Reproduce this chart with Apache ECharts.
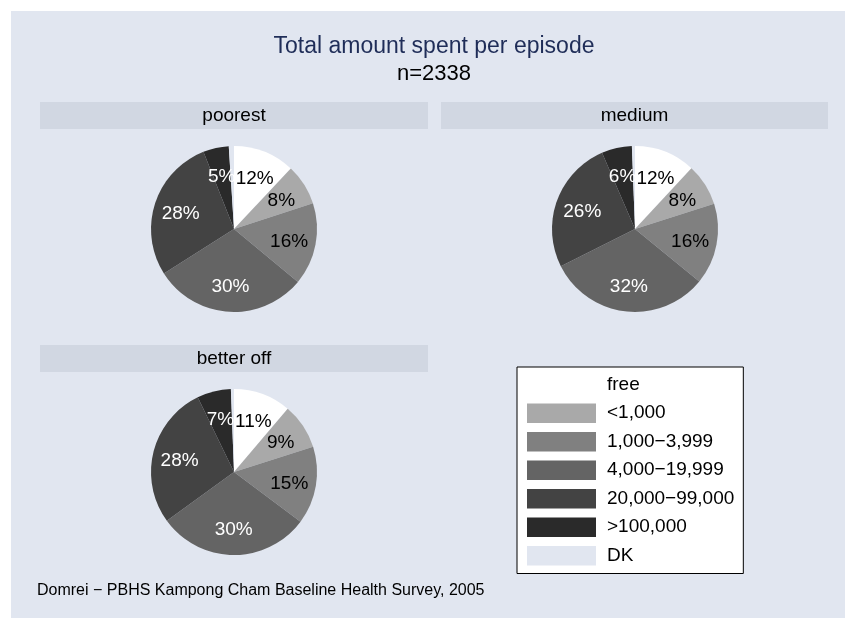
<!DOCTYPE html>
<html>
<head>
<meta charset="utf-8">
<title>Total amount spent per episode</title>
<script src="https://cdn.jsdelivr.net/npm/echarts@6/dist/echarts.min.js"></script>
<style>
  html, body { margin: 0; padding: 0; background: #e1e6f0; overflow: hidden; }
  #chart { width: 845px; height: 618px; }
</style>
</head>
<body>
<div id="chart"></div>
<script>
// Spending categories (slice order, clockwise from 12 o'clock)
const categories = ['free', '<1,000', '1,000\u22123,999', '4,000\u221219,999', '20,000\u221299,000', '>100,000', 'DK'];

// Wealth groups shown as separate panels
const groups = ['poorest', 'medium', 'better off'];

// Share of episodes (%) per spending category, by group
const poorestShares = [12, 8, 16, 30, 28, 5, 1];
const mediumShares = [11.9, 8.2, 15.8, 31.7, 25.9, 5.9, 0.6];
const betterOffShares = [11.2, 8.9, 15.1, 29.8, 27.8, 6.6, 0.6];

const titleText = 'Total amount spent per episode';
const subtitleText = 'n=2338';
const noteText = 'Domrei \u2212 PBHS Kampong Cham Baseline Health Survey, 2005';

// Styling
const FONT = '"Liberation Sans", Arial, Helvetica, sans-serif';
const sliceColors = ['#ffffff', '#a9a9a9', '#808080', '#646464', '#434343', '#2a2a2a', '#e1e6f0'];
const labelColors = ['#000000', '#000000', '#000000', '#ffffff', '#ffffff', '#ffffff', '#ffffff'];
const panelBg = '#e1e6f0';
const stripBg = '#d1d7e2';

// Panel geometry
const PIE_R = 83;
const panels = [
  { center: [234, 229], strip: [40, 102, 388, 27] },
  { center: [635, 229], strip: [441, 102, 387, 27] },
  { center: [234, 472], strip: [40, 345, 388, 27] }
];
const shareSets = [poorestShares, mediumShares, betterOffShares];

const chart = echarts.init(document.getElementById('chart'), null, { renderer: 'canvas' });

function buildData(values) {
  return values.map((v, i) => ({
    name: categories[i],
    value: v,
    itemStyle: { color: sliceColors[i] },
    label: {
      show: categories[i] !== 'DK',
      color: labelColors[i]
    }
  }));
}

const series = shareSets.map((vals, si) => ({
  type: 'pie',
  name: groups[si],
  center: panels[si].center,
  radius: [0, PIE_R],
  startAngle: 90,
  clockwise: true,
  avoidLabelOverlap: false,
  silent: true,
  animation: false,
  itemStyle: { borderWidth: 0 },
  emphasis: { disabled: true },
  label: {
    position: 'inside',
    fontFamily: FONT,
    fontSize: 19,
    formatter: p => Math.round(p.value) + '%'
  },
  labelLine: { show: false },
  // push labels from mid-radius out to about 0.63 of the radius
  labelLayout: function (params) {
    const c = panels[params.seriesIndex].center;
    const r = params.labelRect;
    const lx = r.x + r.width / 2;
    const ly = r.y + r.height / 2;
    const k = 1.26;
    return {
      x: c[0] + (lx - c[0]) * k,
      y: c[1] + (ly - c[1]) * k + 2,
      align: 'center',
      verticalAlign: 'middle'
    };
  },
  data: buildData(vals)
}));

const graphics = [
  {
    type: 'rect', z: -10,
    shape: { x: 11, y: 11, width: 900, height: 700 },
    style: { fill: panelBg }
  },
  {
    type: 'text', z: 5,
    x: 434, y: 47,
    style: { text: titleText, fontFamily: FONT, fontSize: 23, fill: '#1f2d58', align: 'center', verticalAlign: 'middle' }
  },
  {
    type: 'text', z: 5,
    x: 434, y: 74,
    style: { text: subtitleText, fontFamily: FONT, fontSize: 22, fill: '#000000', align: 'center', verticalAlign: 'middle' }
  },
  {
    type: 'text', z: 5,
    x: 37, y: 591,
    style: { text: noteText, fontFamily: FONT, fontSize: 16, fill: '#000000', align: 'left', verticalAlign: 'middle' }
  }
];

panels.forEach((p, i) => {
  const s = p.strip;
  graphics.push({
    type: 'rect', z: -5,
    shape: { x: s[0], y: s[1], width: s[2], height: s[3] },
    style: { fill: stripBg }
  });
  graphics.push({
    type: 'text', z: 5,
    x: s[0] + s[2] / 2, y: s[1] + s[3] / 2,
    style: { text: groups[i], fontFamily: FONT, fontSize: 19, fill: '#000000', align: 'center', verticalAlign: 'middle' }
  });
});

chart.setOption({
  backgroundColor: '#ffffff',
  animation: false,
  graphic: graphics,
  legend: {
    data: categories,
    orient: 'vertical',
    left: 517,
    top: 367,
    padding: [8, 9, 8, 10],
    itemWidth: 69,
    itemHeight: 19.5,
    itemGap: 9,
    icon: 'rect',
    selectedMode: false,
    backgroundColor: '#ffffff',
    borderColor: '#000000',
    borderWidth: 1,
    borderRadius: 0,
    textStyle: {
      fontFamily: FONT,
      fontSize: 19,
      color: '#000000',
      padding: [0, 0, 0, 6]
    }
  },
  series: series
});
</script>
</body>
</html>
